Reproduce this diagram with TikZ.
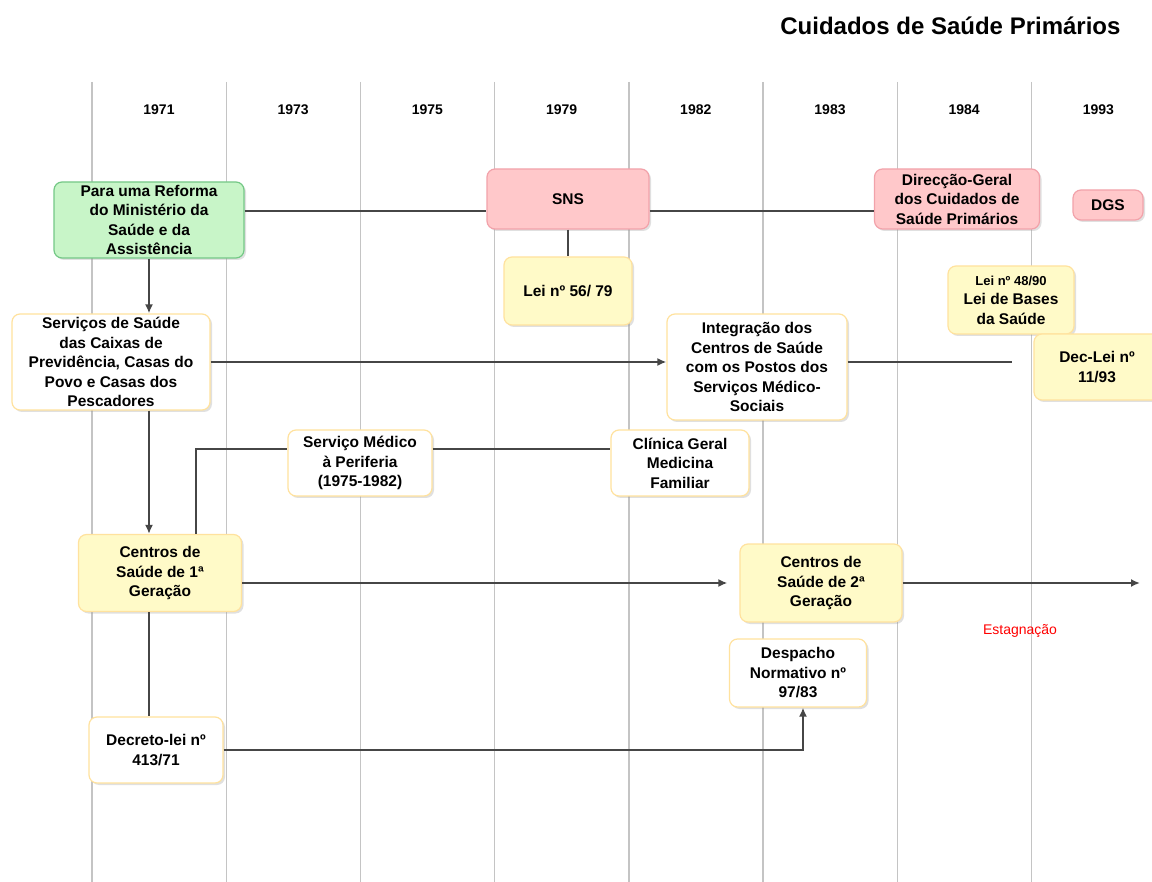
\documentclass[tikz,border=0pt]{standalone}
\usepackage{fontspec}
\setmainfont{Liberation Sans}
\usetikzlibrary{arrows.meta,shadows}

\definecolor{boxgreen}{HTML}{C8F5C8}
\definecolor{edgegreen}{HTML}{74C886}
\definecolor{boxpink}{HTML}{FFC8CA}
\definecolor{edgepink}{HTML}{F2A2AA}
\definecolor{boxyellow}{HTML}{FFFAC8}
\definecolor{edgeyellow}{HTML}{FFE29E}
\definecolor{linegray}{HTML}{464646}
\definecolor{gridgray}{HTML}{C4C4C4}

\tikzset{
  box/.style={draw, line width=1.2pt, rounded corners=8pt, align=center, inner sep=0pt,
    font=\bfseries\fontsize{15.5}{19.5}\selectfont,
    drop shadow={shadow xshift=2pt, shadow yshift=-2pt, opacity=.3, fill=black!40}},
  dims/.style 2 args={minimum width=#1pt, minimum height=#2pt},
  greenbox/.style={box, fill=boxgreen, draw=edgegreen},
  pinkbox/.style={box, fill=boxpink, draw=edgepink},
  yellowbox/.style={box, fill=boxyellow, draw=edgeyellow},
  whitebox/.style={box, fill=white, draw=edgeyellow},
  yearlabel/.style={font=\bfseries\fontsize{14}{16}\selectfont},
  gridline/.style={draw=gridgray, line width=1.4pt},
  link/.style={draw=linegray, line width=2pt},
  arrow/.style={link, -{Latex[length=9pt,width=8pt]}}
}

\begin{document}
\begin{tikzpicture}[x=1pt, y=-1pt]
	\useasboundingbox[fill=white] (0,0) rectangle (1152,882);

	% title and time axis
	\node[anchor=east, font=\bfseries\fontsize{24}{28}\selectfont] (title) at (1124,26) {Cuidados de Saúde Primários};
	\foreach \i in {0,...,7}
		\draw[gridline] (92+134.2*\i,82) -- (92+134.2*\i,882);
	\foreach \yr [count=\i from 0] in {1971,1973,1975,1979,1982,1983,1984,1993}
		\node[yearlabel] (y\yr) at (159+134.2*\i,110) {\yr};

	% top row
	\node[greenbox, dims={190}{76}] (reforma) at (149,220) {Para uma Reforma\\do Ministério da\\Saúde e da\\Assistência};
	\node[pinkbox, dims={162}{60}] (sns) at (568,199) {SNS};
	\node[yellowbox, dims={128}{68}] (lei56) at (568,291) {Lei nº 56/ 79};
	\node[pinkbox, dims={165}{60}] (dgcsp) at (957,199) {Direcção-Geral\\dos Cuidados de\\Saúde Primários};
	\node[pinkbox, dims={70}{30}] (dgs) at (1108,205) {DGS};
	\node[yellowbox, dims={126}{68}] (lei48) at (1011,300) {{\fontsize{13}{15}\selectfont Lei nº 48/90}\\Lei de Bases\\da Saúde};
	\node[yellowbox, dims={126}{66}] (declei) at (1097,367) {Dec-Lei nº\\11/93};

	% middle rows
	\node[whitebox, dims={198}{96}] (servicos) at (111,362) {Serviços de Saúde\\das Caixas de\\Previdência, Casas do\\Povo e Casas dos\\Pescadores};
	\node[whitebox, dims={180}{106}] (integracao) at (757,367) {Integração dos\\Centros de Saúde\\com os Postos dos\\Serviços Médico-\\Sociais};
	\node[whitebox, dims={144}{66}] (smp) at (360,463) {Serviço Médico\\à Periferia\\(1975-1982)};
	\node[whitebox, dims={138}{66}] (clinica) at (680,463) {Clínica Geral\\Medicina\\Familiar};
	\node[yellowbox, dims={163}{77}] (cs1) at (160,573) {Centros de\\Saúde de 1ª\\Geração};
	\node[yellowbox, dims={162}{78}] (cs2) at (821,583) {Centros de\\Saúde de 2ª\\Geração};
	\node[text=red, font=\fontsize{14}{16}\selectfont] (estag) at (1020,631) {Estagnação};

	% bottom row
	\node[whitebox, dims={137}{68}] (despacho) at (798,673) {Despacho\\Normativo nº\\97/83};
	\node[whitebox, dims={134}{66}] (dl413) at (156,750) {Decreto-lei nº\\413/71};

	\coordinate (stop) at (1012,362);
	\coordinate (future) at (1140,583);

	% connectors
	\draw[link] ([yshift=9pt]reforma.east) -- ([yshift=-12pt]sns.west);
	\draw[link] ([yshift=-12pt]sns.east) -- ([yshift=-12pt]dgcsp.west);
	\draw[link] (sns) -- (lei56);
	\draw[arrow] (reforma.south) -- (reforma.south |- servicos.north);
	\draw[arrow] (servicos.east) -- (servicos.east -| integracao.west);
	\draw[link] (integracao.east |- stop) -- (stop);
	\draw[arrow] (reforma.south |- servicos.south) -- (reforma.south |- cs1.north);
	\draw[link] ([xshift=36pt]cs1.north) |- ([yshift=14pt]smp.west);
	\draw[link] ([yshift=14pt]smp.east) -- ([yshift=14pt]clinica.west);
	\draw[arrow] (cs1.east |- cs2.west) -- ([xshift=-12pt]cs2.west);
	\draw[arrow] (cs2.east) -- (future);
	\draw[link] (reforma.south |- cs1.south) -- (reforma.south |- dl413.north);
	\draw[arrow] (dl413.east) -| ([xshift=5pt]despacho.south);
\end{tikzpicture}
\end{document}
